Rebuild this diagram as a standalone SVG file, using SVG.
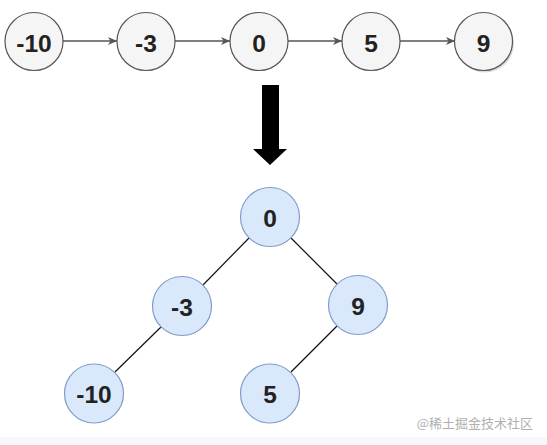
<svg xmlns="http://www.w3.org/2000/svg" width="547" height="445" viewBox="0 0 547 445">
<defs>
<style>
.ln{fill:#f5f5f5;stroke:#555;stroke-width:1.2}
.tr{fill:#dae8fc;stroke:#7f9cc8;stroke-width:1.2}
.t{font-family:"Liberation Sans",Arial,sans-serif;font-weight:bold;font-size:24.5px;fill:#222;text-anchor:middle;dominant-baseline:central}
.e{stroke:#555;stroke-width:1.3;fill:none}
.te{stroke:#111;stroke-width:1.2;fill:none}
</style>
<marker id="ah" markerWidth="10" markerHeight="10" refX="9" refY="5" orient="auto" markerUnits="userSpaceOnUse">
<path d="M0,1 L9,5 L0,9 L2.5,5 Z" fill="#555"/>
</marker>
</defs>
<rect width="547" height="445" fill="#fff"/>
<rect x="0" y="437" width="547" height="8" fill="#f6f7f9"/>
<g id="connectors">
<line class="e" x1="63" y1="41" x2="117" y2="41" marker-end="url(#ah)"/>
<line class="e" x1="175" y1="41" x2="230" y2="41" marker-end="url(#ah)"/>
<line class="e" x1="288" y1="41" x2="342" y2="41" marker-end="url(#ah)"/>
<line class="e" x1="400" y1="41" x2="455" y2="41" marker-end="url(#ah)"/>
<line class="te" x1="249" y1="238" x2="203" y2="285"/>
<line class="te" x1="291" y1="238" x2="337" y2="284"/>
<line class="te" x1="161" y1="327" x2="115" y2="372"/>
<line class="te" x1="337" y1="326" x2="291" y2="372"/>
</g>
<g id="bigarrow">
<path d="M262,85 L279,85 L279,149 L287,149 L270,165 L253,149 L262,149 Z" fill="#000"/>
</g>
<g id="l-10"><circle class="ln" cx="34" cy="41.5" r="29"/><text class="t" x="34" y="43">-10</text></g>
<g id="l-3"><circle class="ln" cx="146" cy="41.5" r="29"/><text class="t" x="146" y="43">-3</text></g>
<g id="l0"><circle class="ln" cx="259" cy="41.5" r="29"/><text class="t" x="259" y="43">0</text></g>
<g id="l5"><circle class="ln" cx="371" cy="41.5" r="29"/><text class="t" x="371" y="43">5</text></g>
<g id="l9"><circle cx="485" cy="43.5" r="29" fill="#bbb" opacity="0.5"/><circle class="ln" cx="483.5" cy="41.5" r="29"/><text class="t" x="483.5" y="43">9</text></g>
<g id="t0"><circle class="tr" cx="270" cy="217" r="29.5"/><text class="t" x="270" y="218">0</text></g>
<g id="t-3"><circle class="tr" cx="182" cy="306" r="29.5"/><text class="t" x="182" y="307">-3</text></g>
<g id="t9"><circle class="tr" cx="358" cy="305" r="29.5"/><text class="t" x="358" y="306">9</text></g>
<g id="t-10"><circle class="tr" cx="94" cy="393.5" r="29.5"/><text class="t" x="94" y="394.5">-10</text></g>
<g id="t5"><circle class="tr" cx="270" cy="393.5" r="29.5"/><text class="t" x="270" y="394.5">5</text></g>
<text x="533" y="428" font-family="'Noto Sans CJK SC',sans-serif" font-size="13" fill="#b0b0b0" text-anchor="end">@稀土掘金技术社区</text>
</svg>
